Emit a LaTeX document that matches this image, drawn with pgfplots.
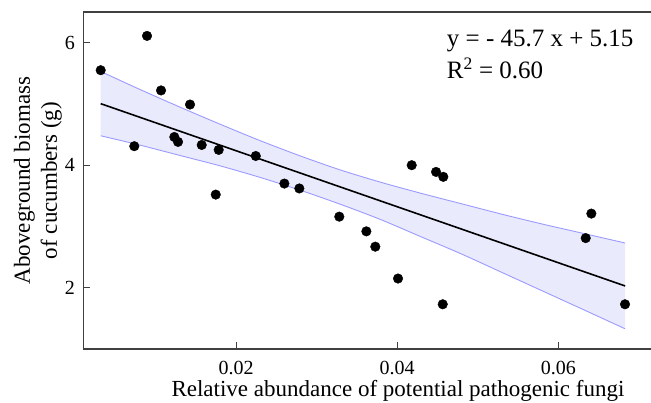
\documentclass[border=0pt]{standalone}
\usepackage{pgfplots}
\pgfplotsset{compat=1.18}
\usepackage{fontspec}
\setmainfont{Liberation Serif}
\definecolor{bandfill}{RGB}{234,234,253}
\definecolor{bandline}{RGB}{155,155,255}
\definecolor{axgray}{RGB}{64,64,64}
\begin{document}
\begin{tikzpicture}
\begin{axis}[
  name=ax,
  scale only axis,
  width=570pt, height=337pt,
  xmin=0.00104, xmax=0.07180,
  ymin=1, ymax=6.5,
  axis line style={axgray, line width=1.3pt},
  scaled x ticks=false, scaled y ticks=false,
  xtick={0.02,0.04,0.06},
  xticklabels={\mbox{0.02},\mbox{0.04},\mbox{0.06}},
  ytick={2,4,6},
  yticklabels={\mbox{2},\mbox{4},\mbox{6}},
  xtick pos=bottom, ytick pos=left,
  tick align=inside,
  major tick length=7pt,
  tick style={axgray, line width=1pt},
  xticklabel style={font=\fontsize{20}{23}\selectfont, inner sep=0pt, yshift=-12pt},
  yticklabel style={font=\fontsize{20}{23}\selectfont, inner sep=0pt, xshift=-8.3pt},
  xlabel={Relative abundance of potential pathogenic fungi},
  xlabel style={font=\fontsize{23}{27}\selectfont, inner sep=0pt, at={(axis description cs:0.552,-0.1415)}, anchor=base},
  ylabel={Aboveground biomass\\of cucumbers (g)},
  ylabel style={font=\fontsize{23}{27}\selectfont, align=center, inner sep=0pt, at={(axis description cs:-0.0374,0.5)}, anchor=south},
  clip=false,
]
% confidence band fill
\addplot[fill=bandfill, draw=none, forget plot] coordinates {
(0.0032,5.53) (0.008,5.24) (0.013,4.95) (0.018,4.67) (0.023,4.40) (0.028,4.15)
(0.033,3.92) (0.038,3.72) (0.043,3.54) (0.048,3.37) (0.053,3.20) (0.058,3.04)
(0.063,2.89) (0.0683,2.73)
(0.0683,1.33) (0.063,1.65) (0.058,1.95) (0.053,2.25) (0.048,2.55) (0.043,2.83)
(0.038,3.11) (0.033,3.36) (0.028,3.59) (0.023,3.80) (0.018,3.99) (0.013,4.16)
(0.008,4.33) (0.0032,4.48)
} -- cycle;
% band edges
\addplot[bandline, line width=0.9pt, smooth] coordinates {
(0.0032,5.53) (0.008,5.24) (0.013,4.95) (0.018,4.67) (0.023,4.40) (0.028,4.15)
(0.033,3.92) (0.038,3.72) (0.043,3.54) (0.048,3.37) (0.053,3.20) (0.058,3.04)
(0.063,2.89) (0.0683,2.73)};
\addplot[bandline, line width=0.9pt, smooth] coordinates {
(0.0032,4.48) (0.008,4.33) (0.013,4.16) (0.018,3.99) (0.023,3.80) (0.028,3.59)
(0.033,3.36) (0.038,3.11) (0.043,2.83) (0.048,2.55) (0.053,2.25) (0.058,1.95)
(0.063,1.65) (0.0683,1.33)};
% regression line
\addplot[black, line width=1.6pt] coordinates {(0.0032,5.004) (0.0683,2.029)};
% points
\addplot[only marks, mark=*, mark size=4.8pt, mark options={black, fill=black}] coordinates {
(0.0032,5.55) (0.00895,6.11) (0.01069,5.22) (0.01429,4.99) (0.01234,4.46)
(0.0128,4.38) (0.00737,4.31) (0.01574,4.33) (0.01785,4.25) (0.02245,4.15)
(0.0260,3.70) (0.02786,3.62) (0.01748,3.52) (0.03282,3.16) (0.03618,2.92)
(0.03729,2.67) (0.04011,2.15) (0.04181,4.00) (0.04483,3.89) (0.04573,3.81)
(0.04566,1.73) (0.06411,3.21) (0.06341,2.81) (0.06829,1.73)};
\node[anchor=base west, inner sep=0pt, font=\fontsize{25}{30}\selectfont] at (axis cs:0.04616,5.934) {y = - 45.7 x + 5.15};
\node[anchor=base west, inner sep=0pt, font=\fontsize{25}{30}\selectfont] at (axis cs:0.04616,5.418) {R\textsuperscript{2} = 0.60};
\end{axis}
\pgfresetboundingbox
\path ([xshift=-83.3pt,yshift=-53pt]ax.south west) rectangle ([xshift=567.7pt,yshift=349pt]ax.south west);
\end{tikzpicture}
\end{document}
